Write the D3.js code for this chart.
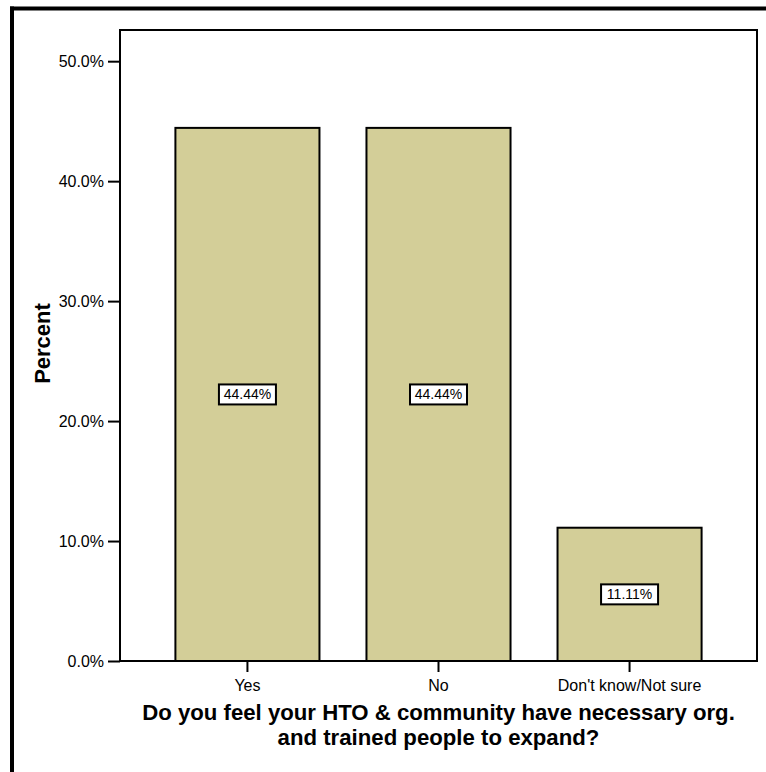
<!DOCTYPE html>
<html>
<head>
<meta charset="utf-8">
<script src="https://cdn.jsdelivr.net/npm/d3@7"></script>
<style>
  html, body { margin: 0; padding: 0; background: #fff; }
  svg { display: block; font-family: "Liberation Sans", Arial, sans-serif; }
</style>
</head>
<body>
<svg id="chart" width="766" height="772"></svg>
<script>
// Survey responses (percent of respondents)
const categories = ["Yes", "No", "Don't know/Not sure"];
const percents = [44.44, 44.44, 11.11];
const yTicks = [0, 10, 20, 30, 40, 50];
const yTitle = "Percent";
const xTitleLines = [
  "Do you feel your HTO & community have necessary org.",
  "and trained people to expand?"
];

const svg = d3.select("#chart");
const plot = { left: 120, right: 757, top: 30, bottom: 661 };

const x = d3.scaleBand()
  .domain(categories)
  .range([plot.left, plot.right])
  .paddingInner(0.246)
  .paddingOuter(0.29);

const y = d3.scaleLinear()
  .domain([0, 52.6])
  .range([plot.bottom, plot.top]);

// outer frame (top and left edges)
svg.append("line").attr("x1", 10).attr("x2", 766).attr("y1", 8.5).attr("y2", 8.5)
  .attr("stroke", "#000").attr("stroke-width", 4);
svg.append("line").attr("x1", 12).attr("x2", 12).attr("y1", 6.5).attr("y2", 772)
  .attr("stroke", "#000").attr("stroke-width", 4);

// bars
svg.append("g").selectAll("rect")
  .data(categories)
  .join("rect")
  .attr("x", d => x(d))
  .attr("width", x.bandwidth())
  .attr("y", (d, i) => y(percents[i]))
  .attr("height", (d, i) => y(0) - y(percents[i]))
  .attr("fill", "#d3ce98")
  .attr("stroke", "#000")
  .attr("stroke-width", 2);

// plot frame
svg.append("rect")
  .attr("x", plot.left).attr("y", plot.top)
  .attr("width", plot.right - plot.left).attr("height", plot.bottom - plot.top)
  .attr("fill", "none").attr("stroke", "#000").attr("stroke-width", 2);

// y axis
const yAxis = svg.append("g")
  .attr("transform", `translate(${plot.left},0)`)
  .call(d3.axisLeft(y).tickValues(yTicks).tickSize(12).tickPadding(4)
    .tickFormat(d => d.toFixed(1) + "%"));
yAxis.select(".domain").remove();
yAxis.selectAll(".tick line").attr("stroke", "#000").attr("stroke-width", 2);
yAxis.selectAll(".tick text").attr("font-size", "16px").attr("fill", "#000")
  .attr("font-family", "Liberation Sans, Arial, sans-serif");

// x axis
const xAxis = svg.append("g")
  .attr("transform", `translate(0,${plot.bottom})`)
  .call(d3.axisBottom(x).tickSize(11).tickPadding(8));
xAxis.select(".domain").remove();
xAxis.selectAll(".tick line").attr("stroke", "#000").attr("stroke-width", 2);
xAxis.selectAll(".tick text").attr("font-size", "16px").attr("fill", "#000")
  .attr("font-family", "Liberation Sans, Arial, sans-serif");

// value labels at bar mid-height
const labels = svg.append("g").selectAll("g")
  .data(categories)
  .join("g")
  .attr("transform", (d, i) => `translate(${x(d) + x.bandwidth() / 2},${y(percents[i] / 2)})`);
labels.append("rect")
  .attr("x", -28.5).attr("y", -10).attr("width", 57).attr("height", 20)
  .attr("fill", "#fff").attr("stroke", "#000").attr("stroke-width", 2);
labels.append("text")
  .attr("text-anchor", "middle").attr("dy", "0.36em")
  .attr("font-size", "14px").attr("fill", "#000")
  .text((d, i) => percents[i].toFixed(2) + "%");

// axis titles
svg.append("text")
  .attr("transform", `translate(49.5,${(plot.top + plot.bottom) / 2 - 2}) rotate(-90)`)
  .attr("text-anchor", "middle")
  .attr("font-size", "22px").attr("font-weight", "bold")
  .text(yTitle);

svg.append("text")
  .attr("text-anchor", "middle")
  .attr("font-size", "22.2px").attr("font-weight", "bold")
  .selectAll("tspan")
  .data(xTitleLines)
  .join("tspan")
  .attr("x", (plot.left + plot.right) / 2)
  .attr("y", (d, i) => 720 + i * 25)
  .text(d => d);
</script>
</body>
</html>
